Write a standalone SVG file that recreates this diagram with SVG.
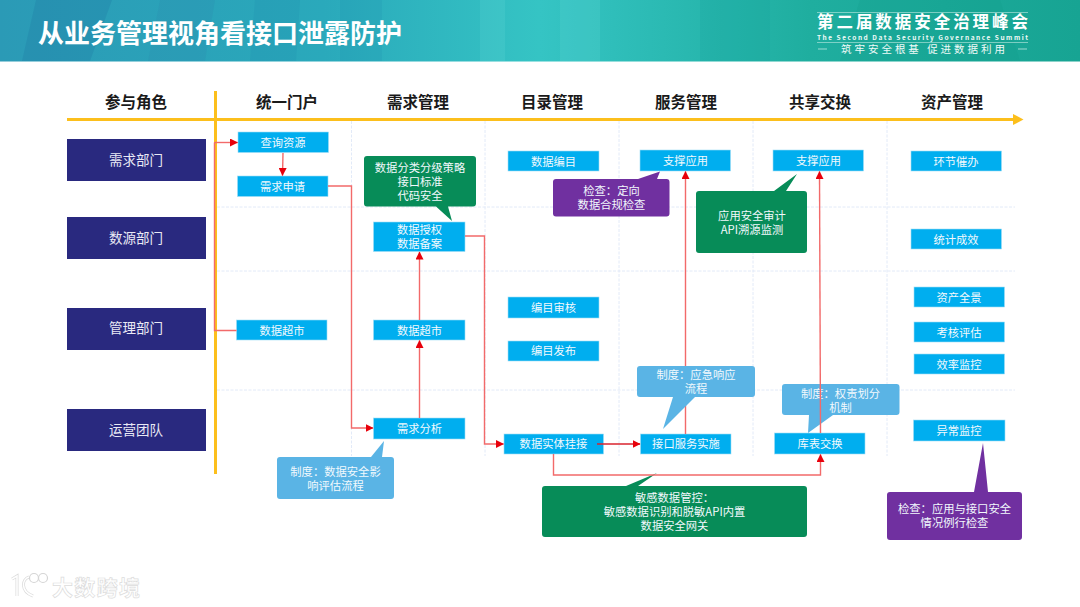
<svg xmlns="http://www.w3.org/2000/svg" width="1080" height="607" viewBox="0 0 1080 607">
<style>
text{font-family:"Noto Sans CJK SC","Liberation Sans",sans-serif;text-anchor:middle}
.b{fill:#00aeef;stroke:#9fdcf5;stroke-width:.6}
.r{fill:#29297f}
.t{font-size:11.3px;fill:#f2f9fd}
.rt{font-size:13.5px;fill:#e9e9f5}
.h{font-size:15.5px;font-weight:700;fill:#1a1a1a}
.g{stroke:#dfe8f7;stroke-width:.9;stroke-dasharray:3 1.5;fill:none}
.green{fill:#078c58}
.purple{fill:#7030a0}
.blue{fill:#5ab4e5}
.c{fill:none;stroke:#f26a6a;stroke-width:1.4}
.wm{fill:#fff;stroke:#dcdcdc;stroke-width:.7;font-size:21px;font-weight:700}
</style>
<defs>
<linearGradient id="hd" x1="0" x2="1" y1="0" y2="0"><stop offset="0" stop-color="#2b9ab6"/><stop offset=".3" stop-color="#2aa9bb"/><stop offset=".5" stop-color="#35c4c4"/><stop offset=".75" stop-color="#1fae9f"/><stop offset="1" stop-color="#17a493"/></linearGradient>
<marker id="a" markerWidth="9" markerHeight="8" refX="7.5" refY="4" orient="auto" markerUnits="userSpaceOnUse"><path d="M0 0L8 4L0 8Z" fill="#e8000b"/></marker>
</defs>
<rect width="1080" height="607" fill="#fff"/>
<g id="header">
<rect width="1080" height="61.5" fill="url(#hd)"/>
<path d="M22 61L36 0H112L90 61Z" fill="#1f7fa6" opacity=".35"/>
<path d="M148 61L160 0H215L205 61Z" fill="#2b8fb0" opacity=".3"/>
<path d="M250 61L255 0H300L296 61Z" fill="#1f8fae" opacity=".25"/>
<path d="M340 61V0H382V61Z" fill="#1f8fae" opacity=".2"/>
<path d="M480 61V0H505V61ZM560 61V0H600V61Z" fill="#7fe6e0" opacity=".14"/>
<path d="M700 61V0H770V61Z" fill="#16a09a" opacity=".2"/>
<path d="M840 61L860 0H1000L1020 61Z" fill="#0f9a88" opacity=".2"/>
<text x="220" y="43" font-size="26" font-weight="700" fill="#fff">从业务管理视角看接口泄露防护</text>
<path d="M817 12.5H1028M817 42.500H1028" stroke="#bfe9e2" stroke-width=".6"/>
<text x="922.500" y="28" font-size="16.500" font-weight="700" fill="#fff" textLength="211">第二届数据安全治理峰会</text>
<text x="922.500" y="39.500" font-size="6.500" font-weight="700" fill="#f0fbf8" textLength="211" font-family="Liberation Sans">The Second Data Security Governance Summit</text>
<text x="923" y="53" font-size="10.500" fill="#eefaf7" textLength="164">筑牢安全根基  促进数据利用</text>
<path d="M818 49H827M1018 49H1027" stroke="#bfe9e2" stroke-width=".8"/>
</g>
<g id="grid">
<path class="g" d="M217 207H1015M217 271H1015M217 390H1015M351.500 121V456M485 121V456M619 121V456M753 121V456M887 121V456"/>
</g>
<g id="axes">
<path d="M67 119.500H1015" stroke="#fcbf1c" stroke-width="3" fill="none"/>
<path d="M1013 114L1023.500 119.500L1013 125Z" fill="#fcbf1c"/>
<path d="M215.500 91V474" stroke="#fcbf1c" stroke-width="3" fill="none"/>
</g>
<g id="headers">
<text class="h" x="136" y="108">参与角色</text>
<text class="h" x="287" y="108">统一门户</text>
<text class="h" x="418" y="108">需求管理</text>
<text class="h" x="552" y="108">目录管理</text>
<text class="h" x="686" y="108">服务管理</text>
<text class="h" x="820" y="108">共享交换</text>
<text class="h" x="952" y="108">资产管理</text>
</g>
<g id="role-demand"><rect class="r" x="67" y="139" width="139" height="42"/><text class="rt" x="136" y="165">需求部门</text></g>
<g id="role-source"><rect class="r" x="67" y="217" width="139" height="42"/><text class="rt" x="136" y="243">数源部门</text></g>
<g id="role-admin"><rect class="r" x="67" y="308" width="139" height="42"/><text class="rt" x="136" y="333">管理部门</text></g>
<g id="role-ops"><rect class="r" x="67" y="409" width="139" height="42"/><text class="rt" x="136" y="435">运营团队</text></g>

<g id="n-query"><rect class="b" x="238" y="132" width="90.500" height="20.500"/><text class="t" x="283" y="146.500">查询资源</text></g>
<g id="n-apply"><rect class="b" x="237.500" y="176" width="90.500" height="20.500"/><text class="t" x="282.500" y="190.500">需求申请</text></g>
<g id="n-market1"><rect class="b" x="236.500" y="320" width="90.500" height="20"/><text class="t" x="282" y="334.500">数据超市</text></g>
<g id="n-auth"><rect class="b" x="373.500" y="222" width="91.500" height="29.500"/><text class="t" x="419.500" y="234">数据授权</text><text class="t" x="419.500" y="248">数据备案</text></g>
<g id="n-market2"><rect class="b" x="373.500" y="320" width="91.500" height="20"/><text class="t" x="419.500" y="334.500">数据超市</text></g>
<g id="n-analysis"><rect class="b" x="373.500" y="418" width="91.500" height="21"/><text class="t" x="419.500" y="432.500">需求分析</text></g>
<g id="n-catalog"><rect class="b" x="508" y="151" width="91" height="20"/><text class="t" x="553.500" y="165.500">数据编目</text></g>
<g id="n-review"><rect class="b" x="508" y="297" width="91" height="21"/><text class="t" x="553.500" y="311.500">编目审核</text></g>
<g id="n-publish"><rect class="b" x="508" y="341" width="91" height="20"/><text class="t" x="553.500" y="355">编目发布</text></g>
<g id="n-entity"><rect class="b" x="504" y="434" width="99.500" height="20"/><text class="t" x="553.500" y="448">数据实体挂接</text></g>
<g id="n-support1"><rect class="b" x="640" y="150" width="90.500" height="21"/><text class="t" x="685.500" y="164.500">支撑应用</text></g>
<g id="n-impl"><rect class="b" x="640.500" y="434" width="90.500" height="20"/><text class="t" x="686" y="448">接口服务实施</text></g>
<g id="n-support2"><rect class="b" x="773" y="150" width="90.500" height="21"/><text class="t" x="818.500" y="164.500">支撑应用</text></g>
<g id="n-exchange"><rect class="b" x="774.500" y="433" width="90.500" height="21"/><text class="t" x="820" y="447.500">库表交换</text></g>
<g id="n-urge"><rect class="b" x="911" y="151" width="90.500" height="20"/><text class="t" x="956" y="165.500">环节催办</text></g>
<g id="n-stat"><rect class="b" x="911" y="229" width="90.500" height="20"/><text class="t" x="956" y="243.500">统计成效</text></g>
<g id="n-panorama"><rect class="b" x="914" y="287" width="90.500" height="20"/><text class="t" x="959" y="301.500">资产全景</text></g>
<g id="n-assess"><rect class="b" x="914" y="322" width="90.500" height="20"/><text class="t" x="959" y="336.500">考核评估</text></g>
<g id="n-eff"><rect class="b" x="914" y="354" width="90.500" height="20"/><text class="t" x="959" y="368.500">效率监控</text></g>
<g id="n-anomaly"><rect class="b" x="913.500" y="420" width="91.500" height="21"/><text class="t" x="959" y="434.500">异常监控</text></g>

<g id="callout-policy"><path class="green" d="M367 156H473Q476 156 476 159V203.500Q476 206.500 473 206.500H448L452 221L436 206.500H367Q364 206.500 364 203.500V159Q364 156 367 156Z"/><text class="t" x="420" y="172">数据分类分级策略</text><text class="t" x="420" y="186">接口标准</text><text class="t" x="420" y="200">代码安全</text></g>
<g id="callout-check1"><path class="purple" d="M556 179H638L660 171.500L657 179H666.500Q669.500 179 669.500 182V213.500Q669.500 216.500 666.500 216.500H556Q553 216.500 553 213.500V182Q553 179 556 179Z"/><text class="t" x="611.500" y="195">检查：定向</text><text class="t" x="611.500" y="209">数据合规检查</text></g>
<g id="callout-audit"><path class="green" d="M699 191H774L797 174L786 191H804Q807 191 807 194V250Q807 253 804 253H699Q696 253 696 250V194Q696 191 699 191Z"/><text class="t" x="752" y="220">应用安全审计</text><text class="t" x="752" y="234">API溯源监测</text></g>
<g id="callout-impact"><path class="blue" d="M280 457H371L384 441L382 457H391Q394 457 394 460V496Q394 499 391 499H280Q277 499 277 496V460Q277 457 280 457Z"/><text class="t" x="335.500" y="476">制度：数据安全影</text><text class="t" x="335.500" y="490">响评估流程</text></g>
<g id="callout-duty"><path class="blue" d="M785 384H896.500Q899.500 384 899.500 387V412Q899.500 415 896.500 415H833L808 433L809 415H785Q782 415 782 412V387Q782 384 785 384Z"/><text class="t" x="840.500" y="398">制度：权责划分</text><text class="t" x="840.500" y="412">机制</text></g>
<g id="callout-sensitive"><path class="green" d="M545 486H626L657 473L638 486H804Q807 486 807 489V534Q807 537 804 537H545Q542 537 542 534V489Q542 486 545 486Z"/><text class="t" x="674.500" y="501.500">敏感数据管控：</text><text class="t" x="674.500" y="515.500">敏感数据识别和脱敏API内置</text><text class="t" x="674.500" y="529.500">数据安全网关</text></g>
<g id="callout-check2"><path class="purple" d="M890 492H974L983 443L988 492H1019Q1022 492 1022 495V537Q1022 540 1019 540H890Q887 540 887 537V495Q887 492 890 492Z"/><text class="t" x="954.500" y="513">检查：应用与接口安全</text><text class="t" x="954.500" y="527">情况例行检查</text></g>

<g id="connectors">
<path class="c" d="M214.500 142.500H237.500" marker-end="url(#a)"/>
<path class="c" d="M214.500 142.500V330.500H236.500"/>
<path class="c" d="M283 153L282.500 175.500" marker-end="url(#a)"/>
<path class="c" d="M328 186H351.500V428H373" marker-end="url(#a)"/>
<path class="c" d="M419.500 418V340.500" marker-end="url(#a)"/>
<path class="c" d="M419.500 320V252" marker-end="url(#a)"/>
<path class="c" d="M465 236H484.500V444H503.500" marker-end="url(#a)"/>
<path class="c" d="M597 444H640" marker-end="url(#a)" style="stroke:#d9232e"/>
<path class="c" d="M553.500 454V475H820.500V454.500" marker-end="url(#a)"/>
<path class="c" d="M685.500 434V171.500" marker-end="url(#a)"/>
<path class="c" d="M820.500 433L819.500 171.500" marker-end="url(#a)"/>
</g>

<g id="callout-emergency"><path class="blue" d="M640 366H752Q755 366 755 369V394Q755 397 752 397H695L663 429L673 397H640Q637 397 637 394V369Q637 366 640 366Z"/><text class="t" x="696" y="379">制度：应急响应</text><text class="t" x="696" y="393">流程</text></g>

<g id="watermark">
<text class="wm" x="96" y="595" textLength="88">大数跨境</text>
<path d="M12 579L17 576V596M29 577C22 579 20 591 33 596" fill="none" stroke="#dcdcdc" stroke-width="3"/>
<path d="M12 579L17 576V596M29 577C22 579 20 591 33 596" fill="none" stroke="#fff" stroke-width="1.500"/>
<circle cx="34" cy="578" r="4.500" fill="#fff" stroke="#d5d5d5" stroke-width="1.200"/>
<circle cx="43" cy="578" r="4.500" fill="#fff" stroke="#d5d5d5" stroke-width="1.200"/>
</g>
</svg>
